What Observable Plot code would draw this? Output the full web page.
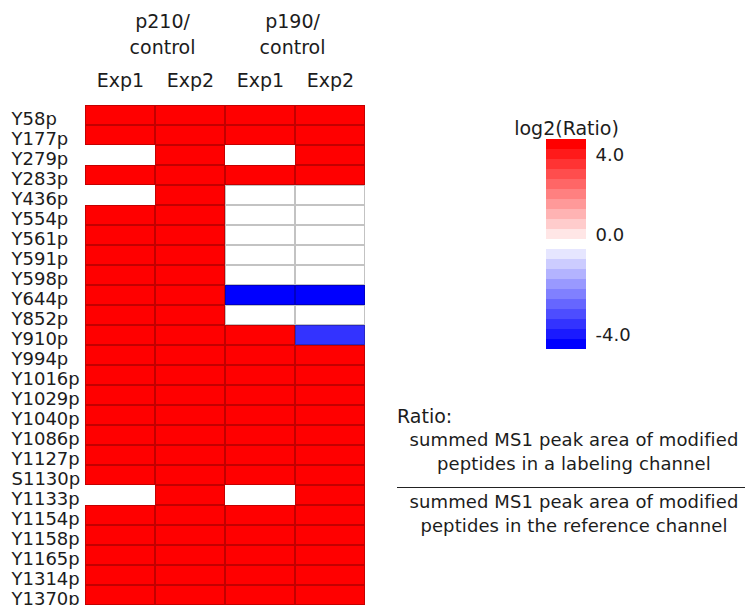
<!DOCTYPE html>
<html>
<head>
<meta charset="utf-8">
<script src="https://cdn.jsdelivr.net/npm/d3@7"></script>
<script src="https://cdn.jsdelivr.net/npm/@observablehq/plot@0.6"></script>
<style>
  html, body { margin: 0; padding: 0; background: #fff; }
  #wrap { position: relative; width: 747px; height: 605px; overflow: hidden; font-family: "DejaVu Sans", sans-serif; color: #1c1c1c; }
  #main { position: absolute; left: 0; top: 0; }
  #legend { position: absolute; left: 480px; top: 100px; }
  #ratio { position: absolute; left: 397px; top: 404px; width: 348px; }
  #ratio .title { font-size: 19px; line-height: 24px; }
  #ratio .frac { font-size: 18px; line-height: 24px; text-align: center; padding-left: 6px; letter-spacing: 0.1px; }
  #ratio .bar { margin: 11px 0 2px 0; border-top: 1.5px solid #222; height: 0; }
  g[aria-label="row labels"] text { letter-spacing: 0.8px; }
</style>
</head>
<body>
<div id="wrap">
  <div id="main"></div>
  <div id="legend"></div>
  <div id="ratio"></div>
</div>
<script>
// ---- data ----
const sites = ["Y58p","Y177p","Y279p","Y283p","Y436p","Y554p","Y561p","Y591p","Y598p","Y644p","Y852p","Y910p","Y994p","Y1016p","Y1029p","Y1040p","Y1086p","Y1127p","S1130p","Y1133p","Y1154p","Y1158p","Y1165p","Y1314p","Y1370p"];
const columns = ["p210 Exp1","p210 Exp2","p190 Exp1","p190 Exp2"];
const groupLabels = ["p210/\ncontrol","p190/\ncontrol"];
// log2(ratio) per site (null = not quantified)
const p210Exp1 = [4,4,null,4,null,4,4,4,4,4,4,4,4,4,4,4,4,4,4,null,4,4,4,4,4];
const p210Exp2 = [4,4,4,4,4,4,4,4,4,4,4,4,4,4,4,4,4,4,4,4,4,4,4,4,4];
const p190Exp1 = [4,4,null,4,0,0,0,0,0,-4,0,4,4,4,4,4,4,4,4,null,4,4,4,4,4];
const p190Exp2 = [4,4,4,4,0,0,0,0,0,-4,0,-3,4,4,4,4,4,4,4,4,4,4,4,4,4];
const legendSteps = [3.8,3.4,3.0,2.6,2.2,1.8,1.4,1.0,0.6,0.2,0,-0.2,-0.6,-1.0,-1.4,-1.8,-2.2,-2.6,-3.0,-3.4,-3.8];
const legendTickLabels = ["4.0","0.0","-4.0"];
const legendTickSteps = [3.4,0.2,-3.4];
const legendTitle = "log2(Ratio)";
const ratioTitle = "Ratio:";
const numeratorLines = ["summed MS1 peak area of modified","peptides in a labeling channel"];
const denominatorLines = ["summed MS1 peak area of modified","peptides in the reference channel"];

// ---- table ----
const series = [p210Exp1, p210Exp2, p190Exp1, p190Exp2];
const table = [];
columns.forEach((col, j) => sites.forEach((s, i) => {
  const v = series[j][i];
  if (v !== null) table.push({col, site: s, value: v});
}));

// ---- stepped diverging colour scale ----
const thresholds = [];
for (let k = 9; k >= 1; k--) thresholds.push(-k * 0.4);
thresholds.push(-1e-6, 1e-6);
for (let k = 1; k <= 9; k++) thresholds.push(k * 0.4);
const blues = d3.range(10, 0, -1).map(k => d3.interpolateRgb("#ffffff", "#0000ff")(k / 10));
const reds = d3.range(1, 11).map(k => d3.interpolateRgb("#ffffff", "#ff0000")(k / 10));
const colorOpts = {type: "threshold", domain: thresholds, range: [...blues, "#ffffff", ...reds]};
const colorScale = Plot.scale({color: colorOpts});
const edge = v => d3.color(colorScale.apply(v)).darker(0.75).formatHex();

const font = {fontFamily: "DejaVu Sans", color: "#1c1c1c", background: "#fff"};

const main = Plot.plot({
  width: 370, height: 605,
  marginLeft: 85, marginRight: 5, marginTop: 105, marginBottom: 0,
  style: {...font, fontSize: "18px"},
  x: {domain: columns, padding: 0, axis: null},
  y: {domain: sites, padding: 0, axis: null},
  color: colorOpts,
  marks: [
    Plot.cell(table, {x: "col", y: "site", fill: "value", stroke: d => edge(d.value), strokeWidth: 1, inset: 0.5}),
    Plot.text(sites, {y: d => d, text: d => d, frameAnchor: "left", textAnchor: "start", dx: -74, dy: 4, fontSize: 18, fill: "#1c1c1c", ariaLabel: "row labels"}),
    Plot.text(columns, {x: d => d, text: d => d.split(" ")[1], frameAnchor: "top", dy: -32, fontSize: 19, fill: "#1c1c1c"}),
    Plot.text([groupLabels[0]], {x: () => columns[0], text: d => d, frameAnchor: "top", dy: -96, dx: 42, lineHeight: 1.37, fontSize: 19, fill: "#1c1c1c"}),
    Plot.text([groupLabels[1]], {x: () => columns[2], text: d => d, frameAnchor: "top", dy: -96, dx: 32, lineHeight: 1.37, fontSize: 19, fill: "#1c1c1c"})
  ]
});
document.getElementById("main").appendChild(main);

const legend = Plot.plot({
  width: 200, height: 260,
  marginTop: 39, marginBottom: 11, marginLeft: 66, marginRight: 94,
  style: {...font, fontSize: "18px"},
  y: {domain: legendSteps, padding: 0, axis: null},
  color: colorOpts,
  marks: [
    Plot.cell(legendSteps, {y: d => d, fill: d => d}),
    Plot.text(legendTickLabels, {y: (d, i) => legendTickSteps[i], text: d => d, frameAnchor: "right", textAnchor: "start", dx: 9, dy: 1, fontSize: 18, fill: "#1c1c1c"}),
    Plot.text([legendTitle], {text: d => d, frameAnchor: "top", dy: -18, fontSize: 19, fill: "#1c1c1c"})
  ]
});
document.getElementById("legend").appendChild(legend);

const ratio = document.getElementById("ratio");
const t = document.createElement("div"); t.className = "title"; t.textContent = ratioTitle; ratio.appendChild(t);
const num = document.createElement("div"); num.className = "frac";
numeratorLines.forEach(l => { const d = document.createElement("div"); d.textContent = l; num.appendChild(d); });
ratio.appendChild(num);
const bar = document.createElement("div"); bar.className = "bar"; ratio.appendChild(bar);
const den = document.createElement("div"); den.className = "frac";
denominatorLines.forEach(l => { const d = document.createElement("div"); d.textContent = l; den.appendChild(d); });
ratio.appendChild(den);
</script>
</body>
</html>
